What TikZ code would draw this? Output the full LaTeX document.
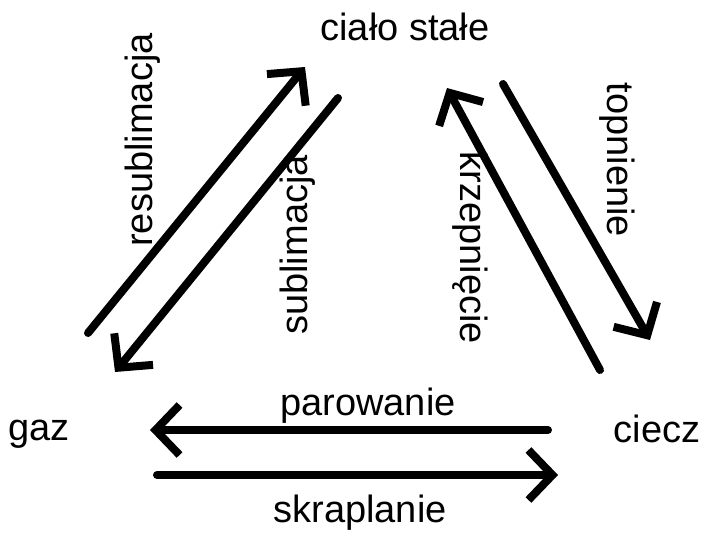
\documentclass[tikz,border=0pt]{standalone}
\usepackage{fontspec}
\setmainfont{Liberation Sans}
\usetikzlibrary{arrows.meta}
\tikzset{
    statelabel/.style={inner sep=0pt, anchor=base, font=\fontsize{38}{40}\selectfont},
    proclabel/.style={inner sep=0pt, font=\fontsize{38}{40}\selectfont},
    phasearrow/.style={-{Straight Barb[length=24pt, width=50pt]}, line width=8pt, line cap=round, black},
}
\begin{document}
\begin{tikzpicture}[x=1pt, y=-1pt]
    \useasboundingbox (0,0) rectangle (706,536);
    % stany skupienia
    \node[statelabel] (solid) at (405,40) {ciało stałe};
    \node[statelabel] (gas) at (39,440) {gaz};
    \node[statelabel] (liquid) at (657,442) {ciecz};

    % koncowki strzalek
    \coordinate (r1) at (88,333);  \coordinate (r2) at (305,67);
    \coordinate (s1) at (338,98);  \coordinate (s2) at (115,372);
    \coordinate (t1) at (503,84);  \coordinate (t2) at (650,340);
    \coordinate (k1) at (600,370); \coordinate (k2) at (447,88);
    \coordinate (p1) at (548,430); \coordinate (p2) at (150,430);
    \coordinate (q1) at (157,475); \coordinate (q2) at (558,475);

    \draw[phasearrow] (r1) -- (r2);
    \draw[phasearrow] (s1) -- (s2);
    \draw[phasearrow] (t1) -- (t2);
    \draw[phasearrow] (k1) -- (k2);
    \draw[phasearrow] (p1) -- (p2);
    \draw[phasearrow] (q1) -- (q2);

    % przejscia fazowe
    \node[proclabel, rotate=90] (resub) at (143,140) {resublimacja};
    \node[proclabel, rotate=90] (sub) at (298,245) {sublimacja};
    \node[proclabel, rotate=-90] (krzep) at (470,248) {krzepnięcie};
    \node[proclabel, rotate=-90] (topn) at (617,160) {topnienie};
    \node[statelabel] (parow) at (368,415) {parowanie};
    \node[statelabel] (skrap) at (360,522) {skraplanie};
\end{tikzpicture}
\end{document}
